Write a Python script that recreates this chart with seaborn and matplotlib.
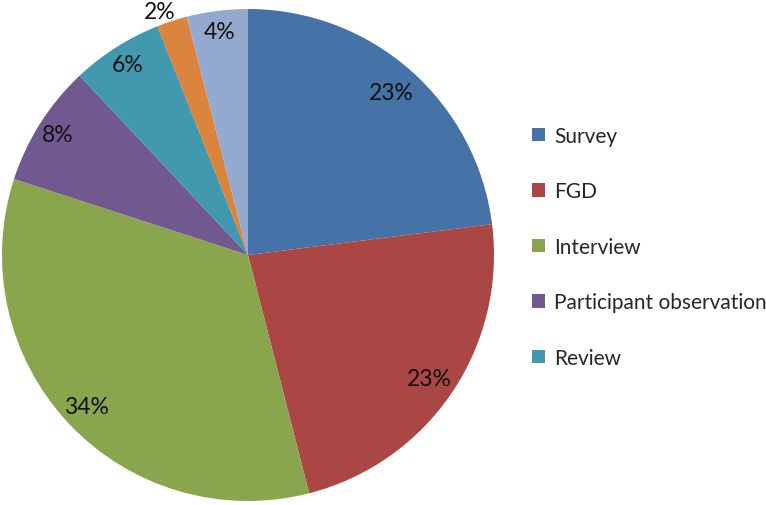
import numpy as np
import matplotlib
matplotlib.use("Agg")
import matplotlib.pyplot as plt
import seaborn as sns

# data
methods = ['Survey', 'FGD', 'Interview', 'Participant observation', 'Review',
           'Case study', 'Other']
shares = [23, 23, 34, 8, 6, 2, 4]
pct_labels = ['23%', '23%', '34%', '8%', '6%', '2%', '4%']
n_legend = 5

sns.set_theme(style='white')
plt.rcParams['font.family'] = ['Lato', 'DejaVu Sans']

colors = ['#4572A7', '#AA4643', '#89A54E', '#71588F', '#4198AF', '#DB843D', '#93A9CF']

fig = plt.figure(figsize=(7.66, 5.06), dpi=100)
# pie area (center ~ (248, 257) px, radius ~245 px)
ax = fig.add_axes([2 / 766, 4 / 506, 492 / 766, 492 / 506])

wedges, _ = ax.pie(shares, colors=colors, startangle=90, counterclock=False,
                   radius=1, wedgeprops=dict(linewidth=0))
ax.set_xlim(-1, 1)
ax.set_ylim(-1, 1)
ax.set_aspect('equal')
ax.axis('off')

# percentage labels, placed along each wedge's mid angle
dist = [0.88, 0.89, 0.9, 0.915, 0.915, 1.055, 0.915]
for w, lab, d in zip(wedges, pct_labels, dist):
    ang = np.deg2rad((w.theta1 + w.theta2) / 2 + (2 if lab == '2%' else 0))
    ax.text(d * np.cos(ang), d * np.sin(ang), lab, ha='center', va='center',
            fontsize=16.5, color='#111111')

fig.legend(wedges[:n_legend], methods[:n_legend], loc='upper left',
           bbox_to_anchor=(532 / 766, 1 - 127 / 506), frameon=False,
           fontsize=15, handlelength=0.6, handleheight=0.6,
           handletextpad=0.45, labelspacing=1.7, borderpad=0, borderaxespad=0)

fig.savefig('out.png', dpi=100)
